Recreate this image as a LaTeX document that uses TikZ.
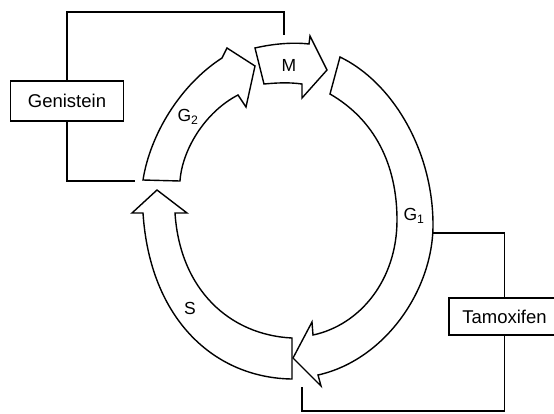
\documentclass[tikz,border=0pt]{standalone}
\usepackage{fontspec}
\setmainfont{Liberation Sans}
\usepackage{tikz}

\begin{document}
\begin{tikzpicture}[x=1pt,y=-1pt,
  phase/.style={draw,line width=1.4pt,fill=white,line join=miter},
  feedback/.style={line width=1.1pt},
  drugbox/.style={draw,line width=1.2pt,inner sep=0pt,
    font=\fontsize{18.5}{20}\selectfont},
  every node/.style={font=\fontsize{17.5}{20}\selectfont}]
  \useasboundingbox (0,0) rectangle (554,413);
  % G2
  \draw[phase] (143,180) .. controls (150,135) and (180,85) .. (222,58)
    -- (227,48) -- (255,66) -- (246,107) -- (238,95)
    .. controls (205,112) and (182,150) .. (180,181) -- cycle;
  % M
  \draw[phase] (255,48) .. controls (272,44) and (292,42) .. (309,44)
    -- (310,36) -- (327,70) -- (302,98) -- (302,84)
    .. controls (288,82) and (275,83) .. (264,84) -- cycle;
  % G1
  \draw[phase] (340,57) .. controls (392,82) and (433,150) .. (433,225)
    .. controls (433,290) and (385,360) .. (318,375)
    -- (321,386) -- (293,358) -- (312,322) -- (313,335)
    .. controls (360,325) and (397,280) .. (397,220)
    .. controls (397,165) and (375,120) .. (330,94) -- cycle;
  % S
  \draw[phase] (292,379) .. controls (215,378) and (150,320) .. (143,213)
    -- (132,213) -- (157,190) -- (187,213) -- (175,213)
    .. controls (180,290) and (230,335) .. (292,338) -- cycle;

  \node (lblG2) at (188,117) {G\textsubscript{2}};
  \node (lblM) at (289,65) {M};
  \node (lblG1) at (414,216) {G\textsubscript{1}};
  \node (lblS) at (190,308) {S};

  \node[drugbox,minimum width=113pt,minimum height=40pt] (gen) at (67,101) {Genistein};
  \node[drugbox,minimum width=111pt,minimum height=37pt] (tam) at (504.5,316.5) {Tamoxifen};

  \coordinate (genTop) at (284,12);
  \coordinate (mIn) at (284,35);
  \coordinate (g2In) at (135,181);
  \coordinate (g1Out) at (433,233);
  \coordinate (tamBot) at (302,411);
  \coordinate (sIn) at (302,387);

  \draw[feedback] (gen.north) |- (genTop) -- (mIn);
  \draw[feedback] (gen.south) |- (g2In);
  \draw[feedback] (tam.north) |- (g1Out);
  \draw[feedback] (tam.south) |- (tamBot) -- (sIn);
\end{tikzpicture}
\end{document}
